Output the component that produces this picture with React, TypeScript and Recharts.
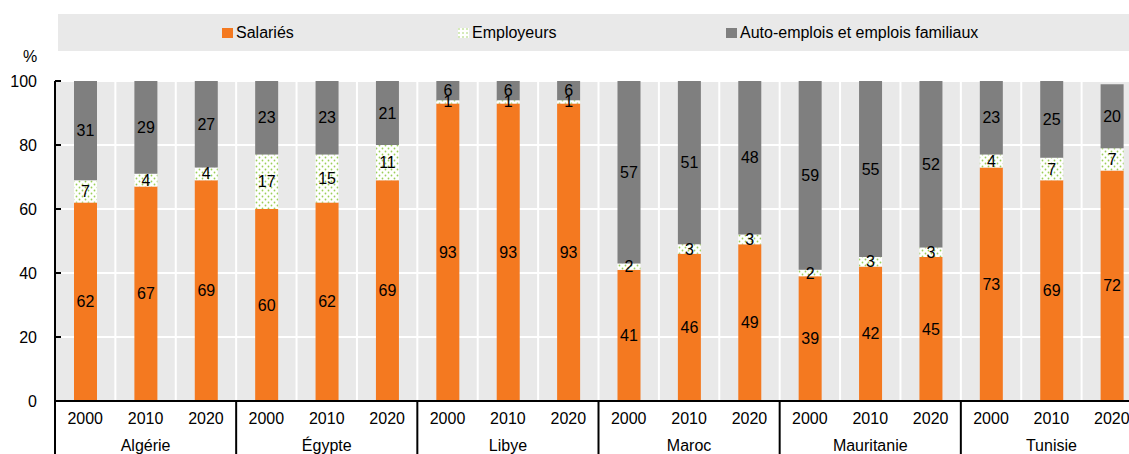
import { Bar, BarChart, CartesianGrid, LabelList, Legend, XAxis, YAxis } from "recharts";

const countries = ["Algérie", "Égypte", "Libye", "Maroc", "Mauritanie", "Tunisie"];
const years = ["2000", "2010", "2020"];

// Part de l'emploi total (%), pays x année, dans l'ordre des pays puis des années
const salaries = [62, 67, 69, 60, 62, 69, 93, 93, 93, 41, 46, 49, 39, 42, 45, 73, 69, 72];
const employeurs = [7, 4, 4, 17, 15, 11, 1, 1, 1, 2, 3, 3, 2, 3, 3, 4, 7, 7];
const autoEmplois = [31, 29, 27, 23, 23, 21, 6, 6, 6, 57, 51, 48, 59, 55, 52, 23, 25, 20];

const yTicks = [0, 20, 40, 60, 80, 100];

const ORANGE = "#f47920";
const GREY = "#7f7f7f";
const PANEL = "#e9e9e9";
const FONT = "'Liberation Sans', Arial, sans-serif";
const FONT_SIZE = 16;

const data = countries.flatMap((country, c) =>
  years.map((year, y) => {
    const i = c * years.length + y;
    return {
      country,
      year,
      salaries: salaries[i],
      employeurs: employeurs[i],
      auto: autoEmplois[i],
    };
  })
);

const CHART_W = 1142;
const CHART_H = 454;
const Y_AXIS_W = 55;
const YEAR_AXIS_H = 24;
const COUNTRY_AXIS_H = 29;
const BAND = (CHART_W - Y_AXIS_W) / data.length;

const legendItems = [
  { label: "Salariés", fill: ORANGE, left: 164 },
  { label: "Employeurs", fill: "url(#dots)", left: 400 },
  { label: "Auto-emplois et emplois familiaux", fill: GREY, left: 668 },
];

const LegendBand = () => (
  <div style={{ position: "relative", height: 37, background: PANEL, fontFamily: FONT, fontSize: FONT_SIZE }}>
    {legendItems.map((item) => (
      <div
        key={item.label}
        style={{ position: "absolute", left: item.left, top: 0, height: 37, display: "flex", alignItems: "center", color: "#000" }}
      >
        <svg width={11} height={10} style={{ marginRight: 3 }}>
          <defs>
            <pattern id="dotsLegend" width="4" height="4" patternUnits="userSpaceOnUse">
              <rect width="4" height="4" fill="#fff" />
              <circle cx="1" cy="1" r="0.7" fill="#8cc63f" />
            </pattern>
          </defs>
          <rect width={11} height={10} fill={item.fill === "url(#dots)" ? "url(#dotsLegend)" : item.fill} />
        </svg>
        <span>{item.label}</span>
      </div>
    ))}
  </div>
);

// Second niveau de l'axe X : nom du pays sous l'année du milieu, trait vertical à gauche de chaque groupe
const CountryTick = (props: any) => {
  const { x, y, payload } = props;
  const idx = payload.index as number;
  const left = x - BAND / 2;
  return (
    <g>
      {idx % 3 === 0 && (
        <line x1={left} x2={left} y1={y - YEAR_AXIS_H} y2={y + COUNTRY_AXIS_H} stroke="#000" strokeWidth={2} />
      )}
      {idx % 3 === 1 && (
        <text x={x} y={y + 26} textAnchor="middle" fill="#000" fontSize={FONT_SIZE}>
          {payload.value}
        </text>
      )}
    </g>
  );
};

const labelStyle = { fill: "#000", fontSize: FONT_SIZE };

export default function App() {
  return (
    <div
      style={{
        position: "fixed",
        left: 0,
        top: 0,
        width: 1129,
        height: 454,
        overflow: "hidden",
        background: "#fff",
        fontFamily: FONT,
      }}
    >
      <BarChart width={CHART_W} height={CHART_H} data={data} margin={{ top: 44, right: 0, bottom: 0, left: 0 }}>
        <defs>
          <pattern id="dots" width="6" height="6" patternUnits="userSpaceOnUse">
            <rect width="6" height="6" fill="#fff" />
            <circle cx="1.5" cy="1.5" r="0.9" fill="#9ccf5a" />
            <circle cx="4.5" cy="4.5" r="0.9" fill="#9ccf5a" />
          </pattern>
        </defs>
        <Legend
          verticalAlign="top"
          content={() => <LegendBand />}
          wrapperStyle={{ top: 14, left: 58, width: 1080, height: 37 }}
        />
        <CartesianGrid
          fill={PANEL}
          stroke="#fff"
          strokeWidth={2}
          verticalCoordinatesGenerator={({ offset }: any) =>
            data.slice(1).map((_, i) => offset.left + ((i + 1) * offset.width) / data.length)
          }
        />
        <XAxis
          dataKey="year"
          interval={0}
          height={YEAR_AXIS_H}
          axisLine={{ stroke: "#000", strokeWidth: 2 }}
          tickLine={false}
          tickSize={0}
          tickMargin={12}
          tick={{ fill: "#000", fontSize: FONT_SIZE }}
        />
        <XAxis
          xAxisId="country"
          dataKey="country"
          interval={0}
          height={COUNTRY_AXIS_H}
          axisLine={false}
          tickLine={false}
          tickSize={0}
          tickMargin={0}
          tick={<CountryTick />}
        />
        <YAxis
          type="number"
          domain={[0, 100]}
          ticks={yTicks}
          allowDataOverflow
          width={Y_AXIS_W}
          axisLine={{ stroke: "#000", strokeWidth: 2 }}
          tickLine={{ stroke: "#000", strokeWidth: 2 }}
          tickSize={-6}
          tickMargin={24}
          tick={{ fill: "#000", fontSize: FONT_SIZE }}
          label={{
            content: ({ viewBox }: any) => (
              <text x={viewBox.x + 30} y={viewBox.y - 19} textAnchor="middle" fill="#000" fontSize={FONT_SIZE}>
                %
              </text>
            ),
          }}
        />
        <Bar dataKey="salaries" name="Salariés" stackId="a" fill={ORANGE} barSize={23} isAnimationActive={false}>
          <LabelList dataKey="salaries" position="center" style={labelStyle} />
        </Bar>
        <Bar dataKey="employeurs" name="Employeurs" stackId="a" fill="url(#dots)" barSize={23} isAnimationActive={false}>
          <LabelList dataKey="employeurs" position="center" style={labelStyle} />
        </Bar>
        <Bar
          dataKey="auto"
          name="Auto-emplois et emplois familiaux"
          stackId="a"
          fill={GREY}
          barSize={23}
          isAnimationActive={false}
        >
          <LabelList dataKey="auto" position="center" style={labelStyle} />
        </Bar>
      </BarChart>
    </div>
  );
}
